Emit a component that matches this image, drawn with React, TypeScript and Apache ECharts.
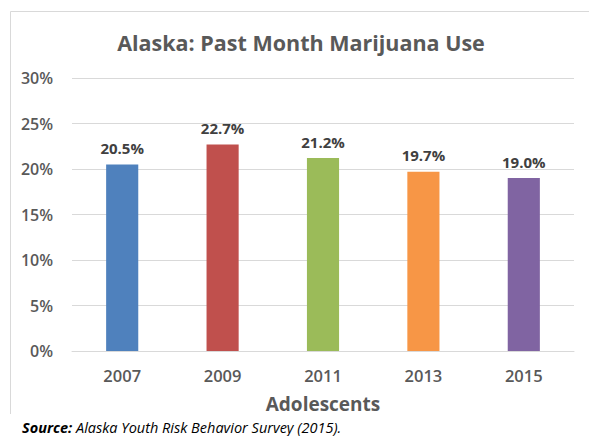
import React, { useEffect, useRef } from "react";
import * as echarts from "echarts";

const categories = ["2007", "2009", "2011", "2013", "2015"];
const values = [20.5, 22.7, 21.2, 19.7, 19.0];
const colors = ["#4F81BD", "#C0504D", "#9BBB59", "#F79646", "#8064A2"];
const titleText = "Alaska: Past Month Marijuana Use";
const xAxisName = "Adolescents";
const sourceLabel = "Source:";
const sourceText = " Alaska Youth Risk Behavior Survey (2015).";

export default function App() {
  const ref = useRef<HTMLDivElement>(null);
  useEffect(() => {
    const chart = echarts.init(ref.current!, null, { renderer: "svg" });
    const font = "'Open Sans', sans-serif";
    chart.setOption({
      animation: false,
      backgroundColor: "#ffffff",
      grid: { left: 72, right: 15, top: 78, bottom: 85 },
      xAxis: {
        type: "category",
        data: categories,
        name: xAxisName,
        nameLocation: "middle",
        nameGap: 43,
        nameTextStyle: { fontFamily: font, fontSize: 19, fontWeight: "bold", color: "#595959" },
        axisLine: { lineStyle: { color: "#d9d9d9", width: 1 } },
        axisTick: { show: false },
        axisLabel: { fontFamily: font, fontSize: 16.5, fontWeight: 600, color: "#595959", margin: 16 },
      },
      yAxis: {
        type: "value",
        min: 0,
        max: 30,
        interval: 5,
        axisLine: { show: false },
        axisTick: { show: false },
        splitLine: { lineStyle: { color: "#d9d9d9", width: 1 } },
        axisLabel: {
          fontFamily: font,
          fontSize: 16,
          fontWeight: 600,
          color: "#595959",
          margin: 19,
          formatter: (v: number) => v + "%",
        },
      },
      series: [
        {
          type: "bar",
          barWidth: "32%",
          data: values.map((v, i) => ({ value: v, itemStyle: { color: colors[i] } })),
          label: {
            show: true,
            position: "top",
            distance: 9,
            fontFamily: font,
            fontSize: 15,
            fontWeight: "bold",
            color: "#404040",
            formatter: (p: any) => p.value.toFixed(1) + "%",
          },
        },
      ],
      graphic: [
        {
          type: "polyline",
          shape: { points: [[10.5, 414], [10.5, 11.5], [600, 11.5]] },
          style: { fill: "none", stroke: "#d9d9d9", lineWidth: 1 },
          silent: true,
        },
        {
          type: "text",
          x: 301,
          y: 42,
          style: {
            text: titleText,
            align: "center",
            verticalAlign: "middle",
            fontFamily: font,
            fontSize: 21.5,
            fontWeight: "bold",
            fill: "#595959",
          },
        },
        {
          type: "text",
          x: 22,
          y: 427,
          style: {
            text: "{b|" + sourceLabel + "}{i|" + sourceText + "}",
            verticalAlign: "middle",
            rich: {
              b: { fontFamily: font, fontSize: 14.5, fontWeight: "bold", fontStyle: "italic", fill: "#000" },
              i: { fontFamily: font, fontSize: 14.5, fontStyle: "italic", fill: "#000" },
            },
          },
        },
      ],
    });
    return () => chart.dispose();
  }, []);
  return (
    <div
      ref={ref}
      style={{ position: "fixed", left: 0, top: 0, width: 589, height: 436 }}
    />
  );
}
